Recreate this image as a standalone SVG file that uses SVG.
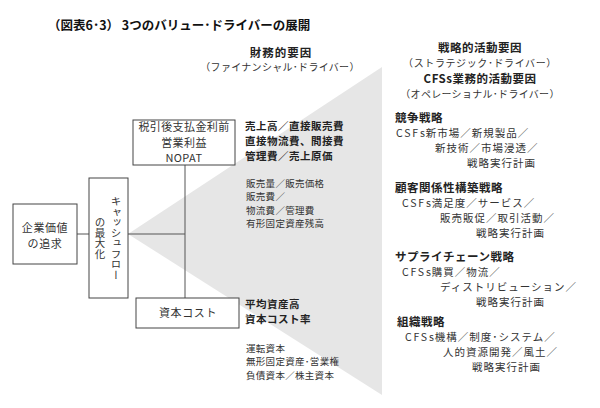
<svg xmlns="http://www.w3.org/2000/svg" width="600" height="408" viewBox="0 0 600 408">
<style>
text{font-family:"Noto Sans CJK JP","Noto Sans",sans-serif;fill:#333}
.t{font-size:12.5px;font-weight:700;fill:#111}
.h{font-size:11.5px;font-weight:700;fill:#222;letter-spacing:0.5px}
.hb{font-size:10.5px;font-weight:700;fill:#222;letter-spacing:0.5px}
.s{font-size:10px;letter-spacing:0.3px}
.r{font-size:10.5px;letter-spacing:1px}
.m{font-size:9.5px;letter-spacing:0.3px}
.b{font-size:11px;letter-spacing:0.4px}
.w{letter-spacing:1.8px}
.c{text-anchor:middle}
.box{fill:#fff;stroke:#444;stroke-width:1}
.ln{stroke:#555;stroke-width:1;fill:none}
.v{writing-mode:vertical-rl;font-size:10.5px}
</style>
<rect width="600" height="408" fill="#fff"/>
<polygon points="128,234 382,67 382,395" fill="#e6e6e6"/>
<text class="t" x="48" y="30">（図表6･3） 3つのバリュー･ドライバーの展開</text>
<g id="financial-header">
<text class="h c" x="281" y="56.5" style="letter-spacing:1px">財務的要因</text>
<text class="s c" x="280" y="71">（ファイナンシャル･ドライバー）</text>
</g>
<g id="strategic-header">
<text class="h c" x="480" y="51.5">戦略的活動要因</text>
<text class="s c" x="480" y="66.5" style="letter-spacing:0.6px">（ストラテジック･ドライバー）</text>
<text class="h c" x="480" y="82.5">CFSs業務的活動要因</text>
<text class="s c" x="480" y="97.5">（オペレーショナル･ドライバー）</text>
</g>
<g id="connectors">
<line class="ln" x1="77" y1="234" x2="89" y2="234"/>
<line class="ln" x1="128" y1="234" x2="185" y2="234"/>
<line class="ln" x1="185" y1="165" x2="185" y2="298"/>
</g>
<g id="node-kigyo">
<rect class="box" x="13" y="204" width="64" height="60"/>
<text class="b c" x="45" y="232" style="letter-spacing:0.6px">企業価値</text>
<text class="b c" x="45" y="248" style="letter-spacing:0.6px">の追求</text>
</g>
<g id="node-cashflow">
<rect class="box" x="89" y="178" width="39" height="120"/>
<text class="v c" x="116" y="238">キャッシュフロー</text>
<text class="v c" x="100" y="238">の最大化</text>
</g>
<g id="node-nopat">
<rect class="box" x="133" y="120" width="102" height="45"/>
<text class="b c" x="184" y="131">税引後支払金利前</text>
<text class="b c" x="184" y="146.5">営業利益</text>
<text class="b c" x="184" y="162">NOPAT</text>
</g>
<g id="node-capital">
<rect class="box" x="136" y="298" width="103" height="30"/>
<text class="b c" x="188" y="317" style="letter-spacing:0.6px">資本コスト</text>
</g>
<g id="nopat-drivers">
<text class="hb" x="245" y="130">売上高／直接販売費</text>
<text class="hb" x="245" y="145">直接物流費、間接費</text>
<text class="hb" x="245" y="160">管理費／売上原価</text>
<text class="m" x="246" y="186.5">販売量／販売価格</text>
<text class="m" x="246" y="200">販売費／</text>
<text class="m" x="246" y="213.5">物流費／管理費</text>
<text class="m" x="246" y="227">有形固定資産残高</text>
</g>
<g id="capital-drivers">
<text class="hb" x="245" y="308">平均資産高</text>
<text class="hb" x="245" y="323">資本コスト率</text>
<text class="m" x="246" y="351.5">運転資本</text>
<text class="m" x="246" y="365">無形固定資産･営業権</text>
<text class="m" x="246" y="378.5">負債資本／株主資本</text>
</g>
<g id="competitive">
<text class="h" x="395" y="121.5">競争戦略</text>
<text class="r" x="396" y="137"><tspan class="w">CSF</tspan><tspan>s新市場／新規製品／</tspan></text>
<text class="r" x="435" y="152">新技術／市場浸透／</text>
<text class="r" x="467" y="167">戦略実行計画</text>
</g>
<g id="customer">
<text class="h" x="395" y="191.5">顧客関係性構築戦略</text>
<text class="r" x="402" y="207"><tspan class="w">CSF</tspan><tspan>s満足度／サービス／</tspan></text>
<text class="r" x="440" y="222">販売販促／取引活動／</text>
<text class="r" x="476" y="237">戦略実行計画</text>
</g>
<g id="supply">
<text class="h" x="395" y="260.5">サプライチェーン戦略</text>
<text class="r" x="402" y="276"><tspan class="w">CFS</tspan><tspan>s購買／物流／</tspan></text>
<text class="r" x="440" y="291">ディストリビューション／</text>
<text class="r" x="476" y="306">戦略実行計画</text>
</g>
<g id="organization">
<text class="h" x="397" y="325.5">組織戦略</text>
<text class="r" x="405" y="341"><tspan class="w">CFS</tspan><tspan>s機構／制度･システム／</tspan></text>
<text class="r" x="443" y="356">人的資源開発／風土／</text>
<text class="r" x="472" y="371">戦略実行計画</text>
</g>
</svg>
